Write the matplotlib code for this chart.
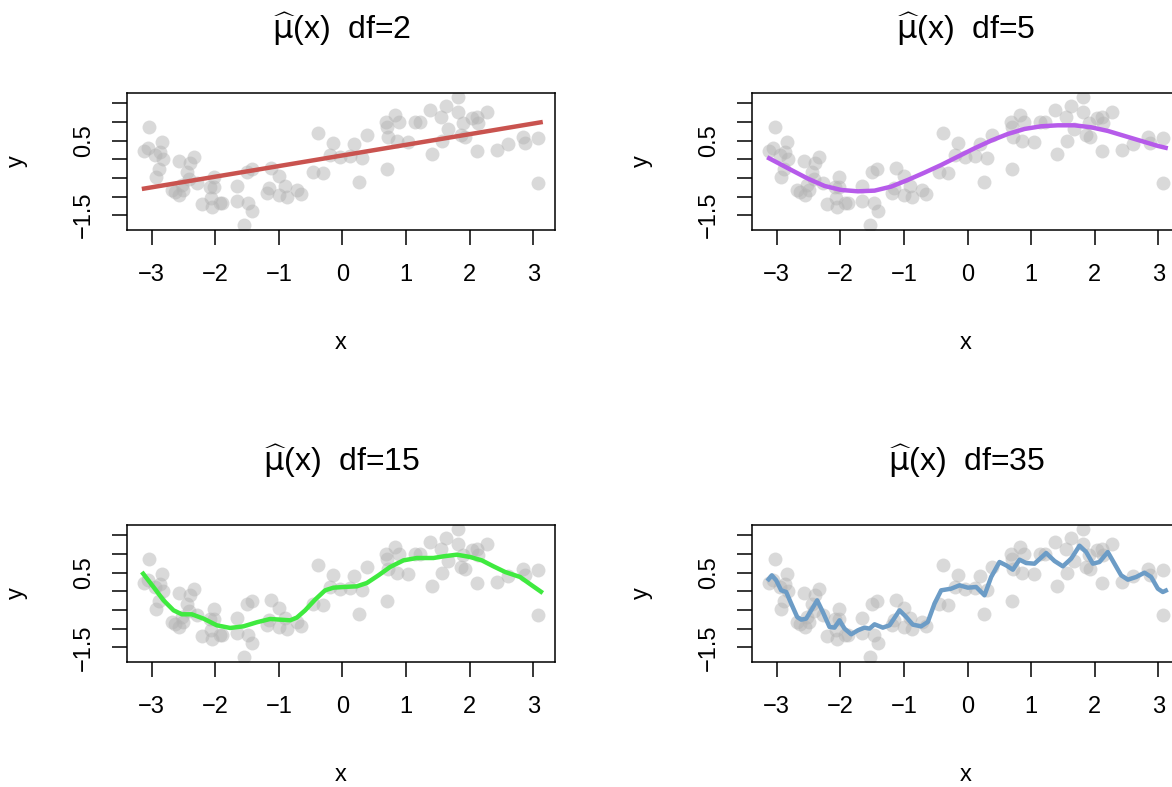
import matplotlib.pyplot as plt

plt.rcParams['font.family'] = ['Liberation Sans', 'DejaVu Sans']
plt.rcParams['mathtext.fontset'] = 'dejavusans'

# observed sample
x_pts = [-3.118, -3.066, -3.035, -2.945, -2.841, -2.867, -2.825, -2.883, -2.930, -2.573,
         -2.332, -2.395, -2.448, -2.421, -2.280, -2.683, -2.631, -2.563, -2.500, -2.526,
         -2.206, -2.070, -2.055, -2.028, -2.013, -2.081, -1.923, -1.887, -1.661, -1.661,
         -1.478, -1.415, -1.541, -1.504, -1.420, -1.190, -1.153, -1.122, -0.996, -0.991,
         -0.901, -0.865, -0.708, -0.650, -0.383, -0.152, -0.194, -0.037, -0.456, -0.299,
         0.189, 0.121, 0.314, 0.383, 0.267, 0.697, 0.681, 0.697, 0.833, 0.896,
         0.713, 0.854, 1.038, 1.143, 1.221, 1.378, 1.551, 1.630, 1.824, 1.824,
         1.667, 1.562, 1.405, 1.903, 1.861, 1.929, 2.034, 2.112, 2.138, 2.269,
         2.112, 2.437, 2.610, 2.846, 2.872, 3.082, 3.071]
y_pts = [0.231, 0.312, 0.875, 0.115, 0.473, 0.205, 0.000, -0.251, -0.466, -0.037,
         0.071, -0.090, -0.340, -0.537, -0.644, -0.823, -0.868, -0.957, -0.823, -0.689,
         -1.198, -1.046, -1.288, -0.483, -0.734, -0.734, -1.163, -1.181, -0.716, -1.109,
         -1.163, -1.386, -1.761, -0.332, -0.269, -0.895, -0.778, -0.242, -0.448, -0.957,
         -0.716, -1.020, -0.823, -0.930, 0.696, 0.428, 0.115, 0.053, -0.332, -0.358,
         0.401, 0.088, 0.026, 0.651, -0.600, -0.260, 0.991, 0.875, 1.188, 1.009,
         0.589, 0.500, 0.473, 1.009, 1.009, 1.322, 1.125, 1.429, 1.661, 1.277,
         0.803, 0.500, 0.133, 0.964, 0.651, 0.589, 1.098, 1.143, 0.964, 1.277,
         0.223, 0.249, 0.401, 0.607, 0.428, 0.562, -0.626]

# fitted smoothing splines
x_fit2 = [-3.155, 3.150]
y_fit2 = [-0.796, 1.000]

x_fit5 = [-3.150, -2.772, -2.510, -2.248, -1.986, -1.724, -1.462, -1.200, -0.938, -0.676,
          -0.414, -0.152, 0.110, 0.372, 0.634, 0.896, 1.158, 1.420, 1.682, 1.944,
          2.207, 2.469, 2.731, 2.993, 3.150]
y_fit5 = [0.053, -0.287, -0.519, -0.716, -0.823, -0.859, -0.841, -0.733, -0.554, -0.358,
          -0.153, 0.071, 0.294, 0.500, 0.678, 0.812, 0.884, 0.910, 0.910, 0.857,
          0.759, 0.625, 0.491, 0.357, 0.294]

x_fit15 = [-3.155, -2.972, -2.814, -2.657, -2.526, -2.369, -2.185, -1.976, -1.766, -1.556,
           -1.347, -1.137, -0.980, -0.823, -0.718, -0.587, -0.430, -0.273, -0.142, 0.016,
           0.225, 0.383, 0.566, 0.749, 0.959, 1.169, 1.431, 1.588, 1.798, 2.007,
           2.191, 2.374, 2.558, 2.793, 2.977, 3.150]
y_fit15 = [0.518, 0.116, -0.241, -0.509, -0.616, -0.616, -0.732, -0.911, -0.982, -0.938,
           -0.830, -0.741, -0.759, -0.777, -0.705, -0.509, -0.223, 0.027, 0.098, 0.116,
           0.134, 0.223, 0.429, 0.652, 0.830, 0.893, 0.893, 0.938, 0.982, 0.920,
           0.830, 0.670, 0.518, 0.384, 0.161, -0.045]

x_fit35 = [-3.150, -3.077, -3.008, -2.930, -2.851, -2.772, -2.678, -2.615, -2.537, -2.458,
           -2.364, -2.275, -2.170, -2.091, -2.013, -1.934, -1.829, -1.724, -1.619, -1.541,
           -1.462, -1.331, -1.226, -1.069, -0.964, -0.860, -0.729, -0.624, -0.519, -0.414,
           -0.257, -0.126, 0.005, 0.136, 0.267, 0.372, 0.503, 0.608, 0.713, 0.818,
           0.922, 1.053, 1.237, 1.368, 1.499, 1.630, 1.761, 1.866, 1.971, 2.075,
           2.206, 2.311, 2.416, 2.521, 2.652, 2.783, 2.888, 2.993, 3.071, 3.150]
y_fit35 = [0.277, 0.429, 0.295, 0.027, -0.018, -0.330, -0.688, -0.759, -0.732, -0.509,
           -0.241, -0.554, -0.955, -0.973, -0.777, -1.000, -1.152, -1.045, -0.973, -1.000,
           -0.884, -0.973, -0.911, -0.509, -0.688, -0.893, -0.938, -0.821, -0.330, 0.027,
           0.071, 0.161, 0.098, 0.116, -0.107, 0.384, 0.786, 0.696, 0.580, 0.848,
           0.759, 0.741, 1.027, 0.813, 0.670, 0.875, 1.223, 1.054, 0.741, 0.786,
           1.054, 0.741, 0.429, 0.313, 0.384, 0.500, 0.384, 0.071, -0.018, 0.045]

dfs = [2, 5, 15, 35]
fits = [(x_fit2, y_fit2), (x_fit5, y_fit5), (x_fit15, y_fit15), (x_fit35, y_fit35)]
colors = ['#C9534F', '#B65BEA', '#3FEA3F', '#6C9CC6']

x_ticks = [-3, -2, -1, 0, 1, 2, 3]
y_ticks = [-1.5, -1.0, -0.5, 0.0, 0.5, 1.0, 1.5]
y_ticklabels = ['\u22121.5', '', '', '', '0.5', '', '']

fig = plt.figure(figsize=(11.72, 7.87), dpi=100)

# panel boxes in figure fractions (left, bottom)
corners = [(0.1086, 0.7078), (0.6419, 0.7078), (0.1086, 0.1588), (0.6419, 0.1588)]
w, h = 0.3649, 0.1745

for k in range(4):
    ax = fig.add_axes([corners[k][0], corners[k][1], w, h])
    ax.scatter(x_pts, y_pts, s=100, color='#B4B4B4', alpha=0.5, linewidths=0, zorder=2)
    ax.plot(fits[k][0], fits[k][1], color=colors[k], lw=3.2, solid_capstyle='butt', zorder=3)
    ax.set_xlim(-3.384, 3.341)
    ax.set_ylim(-1.895, 1.786)
    ax.set_xticks(x_ticks)
    ax.set_xticklabels(['\u22123', '\u22122', '\u22121', '0', '1', '2', '3'])
    ax.set_yticks(y_ticks)
    ax.set_yticklabels(y_ticklabels, rotation=90, va='center')
    ax.tick_params(direction='out', length=10.5, width=1.1, labelsize=17, pad=14)
    ax.tick_params(axis='y', pad=13)
    for sp in ax.spines.values():
        sp.set_linewidth(1.1)
    ax.text(0.5, -0.823, 'x', transform=ax.transAxes, ha='center', va='center', fontsize=17)
    ax.text(-0.258, 0.5, 'y', transform=ax.transAxes, ha='center', va='center',
            fontsize=17, rotation=90)
    ax.text(0.5, 1.46, r'$\widehat{\mathrm{\mu}}$(x)  df=' + str(dfs[k]),
            transform=ax.transAxes, ha='center', va='center', fontsize=23)

plt.savefig('out.png', dpi=100)
